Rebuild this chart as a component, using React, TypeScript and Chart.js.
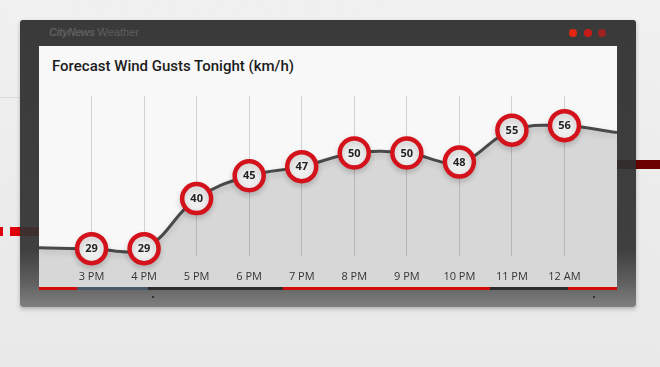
import React, { useEffect, useRef } from "react";
import { Chart, registerables } from "chart.js";

Chart.register(...registerables);

// ---- data ----
const hours: string[] = ["", "3 PM", "4 PM", "5 PM", "6 PM", "7 PM", "8 PM", "9 PM", "10 PM", "11 PM", "12 AM", ""];
const gusts: number[] = [29.2, 29, 29, 40, 45, 47, 50, 50, 48, 55, 56, 54.5];
const titleText = "Forecast Wind Gusts Tonight (km/h)";
const brandName = "CityNews";
const brandSub = "Weather";
const yMin = 27.4;
const yMax = 62.5;

const FILL = "rgba(0,0,0,0.135)";

const baseBand = {
  id: "baseBand",
  beforeDatasetsDraw(chart: any) {
    const { ctx, chartArea } = chart;
    ctx.save();
    ctx.fillStyle = FILL;
    ctx.fillRect(chartArea.left, chartArea.bottom, chartArea.right - chartArea.left, chart.height - chartArea.bottom);
    ctx.restore();
  },
};

const softShadow = {
  id: "softShadow",
  beforeDatasetDraw(chart: any) {
    const ctx = chart.ctx;
    ctx.save();
    ctx.shadowColor = "rgba(0,0,0,0.16)";
    ctx.shadowBlur = 6;
    ctx.shadowOffsetY = 3;
  },
  afterDatasetDraw(chart: any) {
    chart.ctx.restore();
  },
};

const valueLabels = {
  id: "valueLabels",
  afterDatasetsDraw(chart: any) {
    const meta = chart.getDatasetMeta(0);
    const ctx = chart.ctx;
    ctx.save();
    ctx.font = "bold 11px 'Open Sans', sans-serif";
    ctx.fillStyle = "#222";
    ctx.textAlign = "center";
    ctx.textBaseline = "middle";
    meta.data.forEach((pt: any, i: number) => {
      if (!hours[i]) return;
      ctx.fillText(String(gusts[i]), pt.x, pt.y + 0.5);
    });
    ctx.restore();
  },
};

const stripe: { x: number; w: number; c: string }[] = [
  { x: 39, w: 38, c: "#d10a0a" },
  { x: 77, w: 71, c: "#4a5868" },
  { x: 148, w: 135, c: "#2c2c2c" },
  { x: 283, w: 207, c: "#d10a0a" },
  { x: 490, w: 78, c: "#2c2c2c" },
  { x: 568, w: 49, c: "#d10a0a" },
];

export default function App() {
  const canvasRef = useRef<HTMLCanvasElement | null>(null);

  useEffect(() => {
    if (!canvasRef.current) return;
    const chart = new Chart(canvasRef.current, {
      type: "line",
      data: {
        labels: hours,
        datasets: [
          {
            data: gusts,
            borderColor: "#494949",
            borderWidth: 3,
            tension: 0.4,
            fill: "start",
            backgroundColor: FILL,
            pointRadius: (c: any) => (hours[c.dataIndex] ? 14.5 : 0),
            pointHoverRadius: (c: any) => (hours[c.dataIndex] ? 14.5 : 0),
            pointBorderWidth: 4.5,
            pointBorderColor: "#d3121b",
            pointBackgroundColor: "#efefef",
            clip: false,
          } as any,
        ],
      },
      options: {
        responsive: false,
        animation: false,
        events: [],
        layout: { autoPadding: false, padding: { top: 6, left: 0, right: 0, bottom: 0 } },
        plugins: {
          legend: { display: false },
          tooltip: { enabled: false },
          title: { display: false },
        },
        scales: {
          x: {
            offset: false,
            border: { display: false },
            grid: {
              color: (c: any) => (c.index === 0 || c.index === hours.length - 1 ? "rgba(0,0,0,0)" : "#d2d2d2"),
              lineWidth: 1,
              drawTicks: false,
            },
            ticks: {
              color: "#333",
              font: { family: "'Open Sans', sans-serif", size: 11, lineHeight: "42px" },
              padding: 0,
              z: 1,
              autoSkip: false,
              maxRotation: 0,
            },
            afterFit: (s: any) => {
              s.height = 34;
            },
          } as any,
          y: { display: false, min: yMin, max: yMax },
        },
      } as any,
      plugins: [baseBand, softShadow, valueLabels],
    });
    return () => chart.destroy();
  }, []);

  return (
    <div
      style={{
        position: "fixed",
        left: 0,
        top: 0,
        width: 660,
        height: 367,
        overflow: "hidden",
        background: "linear-gradient(to bottom, #f1f1f1 0%, #ebebeb 60%, #e9e9e9 100%)",
        fontFamily: "'Liberation Sans', Arial, sans-serif",
      }}
    >
      {/* watermark */}
      <div
        style={{
          position: "absolute",
          left: -6,
          top: -38,
          fontSize: 92,
          fontWeight: 700,
          fontStyle: "italic",
          color: "rgba(255,255,255,0.45)",
          textShadow: "0 0 1px rgba(0,0,0,0.05)",
          letterSpacing: -2,
          whiteSpace: "nowrap",
        }}
      >
        {brandName}
      </div>
      {/* background bars */}
      <div style={{ position: "absolute", left: 0, top: 227, width: 3, height: 9, background: "#e0000b" }} />
      <div style={{ position: "absolute", left: 10, top: 227, width: 30, height: 9, background: "#e0000b" }} />
      <div style={{ position: "absolute", left: 610, top: 160, width: 50, height: 9, background: "#6c0000" }} />
      <div style={{ position: "absolute", left: 0, top: 97, width: 20, height: 1, background: "#dcdcdc" }} />
      {/* frame */}
      <div
        style={{
          position: "absolute",
          left: 20,
          top: 20,
          width: 616,
          height: 287,
          borderRadius: 3,
          background:
            "linear-gradient(to bottom, rgba(44,44,44,0.93) 0%, rgba(50,50,50,0.93) 80%, rgba(90,90,90,0.95) 92%, rgba(125,125,125,0.97) 100%)",
          boxShadow: "0 2px 4px rgba(0,0,0,0.25)",
        }}
      />
      {/* brand */}
      <div
        style={{
          position: "absolute",
          left: 49,
          top: 26,
          fontSize: 11,
          color: "#5e5e5e",
          whiteSpace: "nowrap",
        }}
      >
        <span style={{ fontWeight: 700, fontStyle: "italic", letterSpacing: -0.5 }}>{brandName}</span>{" "}
        <span>{brandSub}</span>
      </div>
      {/* dots */}
      <div style={{ position: "absolute", left: 569, top: 29, width: 8, height: 8, borderRadius: 4, background: "#e42612" }} />
      <div style={{ position: "absolute", left: 584, top: 29, width: 8, height: 8, borderRadius: 4, background: "#c91a1a" }} />
      <div style={{ position: "absolute", left: 598, top: 29, width: 8, height: 8, borderRadius: 4, background: "#9c2222" }} />
      {/* panel */}
      <div style={{ position: "absolute", left: 39, top: 46, width: 578, height: 244, background: "#f8f8f8" }} />
      <div
        style={{
          position: "absolute",
          left: 52,
          top: 57,
          fontFamily: "Roboto, 'Liberation Sans', sans-serif",
          fontWeight: 500,
          fontSize: 15,
          color: "#1c1c1c",
          whiteSpace: "nowrap",
        }}
      >
        {titleText}
      </div>
      <canvas
        ref={canvasRef}
        width={578}
        height={200}
        style={{ position: "absolute", left: 39, top: 90, width: 578, height: 200 }}
      />
      {stripe.map((s, i) => (
        <div key={i} style={{ position: "absolute", left: s.x, top: 287, width: s.w, height: 3, background: s.c }} />
      ))}
      <div style={{ position: "absolute", left: 152, top: 296, width: 2, height: 2, background: "#333" }} />
      <div style={{ position: "absolute", left: 593, top: 296, width: 2, height: 2, background: "#333" }} />
    </div>
  );
}
